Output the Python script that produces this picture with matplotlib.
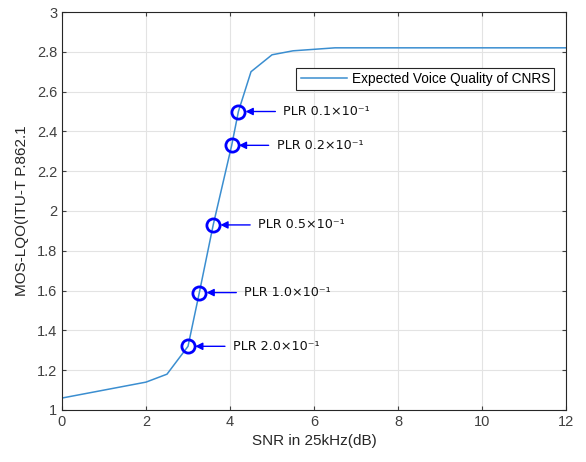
import numpy as np
import matplotlib
matplotlib.use('Agg')
import matplotlib.pyplot as plt

plt.rcParams['font.family'] = ['Liberation Sans', 'DejaVu Sans']

# curve of expected voice quality
snr = [0, 2, 2.5, 3.0, 3.27, 3.6, 4.04, 4.2, 4.5, 5.0, 5.5, 6.5, 12]
mos = [1.06, 1.14, 1.18, 1.32, 1.59, 1.93, 2.33, 2.50, 2.70, 2.785, 2.805, 2.82, 2.82]

# marked PLR points
plr_snr = [4.2, 4.04, 3.6, 3.27, 3.0]
plr_mos = [2.50, 2.33, 1.93, 1.59, 1.32]
plr_labels = ['PLR 0.1×10⁻¹', 'PLR 0.2×10⁻¹', 'PLR 0.5×10⁻¹',
              'PLR 1.0×10⁻¹', 'PLR 2.0×10⁻¹']

fig = plt.figure(figsize=(5.86, 4.62), dpi=100)
ax = fig.add_axes([0.1058, 0.1126, 0.8601, 0.8614])

ax.plot(snr, mos, color='#3b8ed0', lw=1.1, label='Expected Voice Quality of CNRS')
ax.plot(plr_snr, plr_mos, 'o', mfc='none', mec='blue', ms=9.5, mew=2, zorder=5)

for x, y, lab in zip(plr_snr, plr_mos, plr_labels):
    ax.annotate('', xy=(x + 0.17, y), xytext=(x + 0.88, y),
                arrowprops=dict(arrowstyle='-|>', color='blue', lw=1,
                                mutation_scale=11, shrinkA=0, shrinkB=0))
    ax.text(x + 1.07, y, lab, va='center', ha='left', fontsize=9.2, color='#111111',
            family=['DejaVu Sans'])

ax.set_xlim(0, 12)
ax.set_ylim(1, 3)
ax.set_xticks(np.arange(0, 13, 2))
ax.set_yticks([1, 1.2, 1.4, 1.6, 1.8, 2, 2.2, 2.4, 2.6, 2.8, 3])
ax.set_yticklabels(['1', '1.2', '1.4', '1.6', '1.8', '2', '2.2', '2.4', '2.6', '2.8', '3'])
ax.grid(True, color='#e3e3e3', lw=0.8)
ax.set_axisbelow(True)
ax.tick_params(direction='in', length=3, labelsize=10.5, colors='#404040',
               top=True, right=True)
for s in ax.spines.values():
    s.set_color('#262626')
    s.set_linewidth(0.8)

ax.set_xlabel('SNR in 25kHz(dB)', fontsize=11, color='#262626')
ax.set_ylabel('MOS-LQO(ITU-T P.862.1', fontsize=11, color='#262626', labelpad=6)

leg = ax.legend(loc='upper right', bbox_to_anchor=(0.976, 0.859), fontsize=9.8,
                fancybox=False, edgecolor='#262626', framealpha=1,
                borderpad=0.3, handlelength=3.4, handletextpad=0.35,
                borderaxespad=0)
leg.get_frame().set_linewidth(0.8)

fig.savefig('out.png', dpi=100)
